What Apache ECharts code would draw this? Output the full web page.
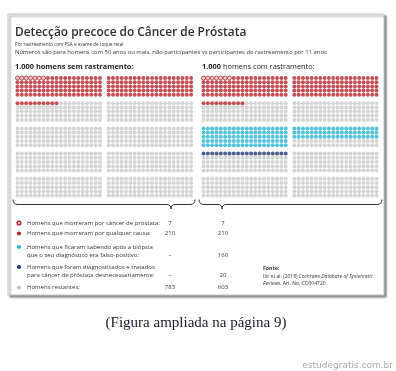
<!DOCTYPE html>
<html><head><meta charset="utf-8">
<script src="https://cdn.jsdelivr.net/npm/echarts@6/dist/echarts.min.js"></script>
<style>html,body{margin:0;padding:0;background:#fff}#c{width:396px;height:371px}</style>
</head><body><div id="c"></div>
<script>
// ---- data ----
const title = 'Detecção precoce do Câncer de Próstata';
const subtitle1 = 'Por rastreamento com PSA e exame de toque retal';
const subtitle2 = 'Números são para homens com 50 anos ou mais, não participantes vs participantes do rastreamento por 11 anos';
const panelTitles = ['1.000 homens sem rastramento:', '1.000 homens com rastramento:'];
const categories = [
  'Homens que morreram por câncer de próstata:',
  'Homens que morreram por qualquer causa:',
  'Homens que ficaram sabendo após a biópsia|que o seu diagnóstico era falso-positivo:',
  'Homens que foram diagnosticados e tratados|para câncer de próstata desnecessariamente:',
  'Homens restantes:'
];
const valuesSem = ['7', '210', '–', '–', '783'];
const valuesCom = ['7', '210', '160', '20', '603'];
// dots drawn in the picture (outlined red, red, cyan, dark blue); the rest are grey
const dotsSem = [7, 203, 0, 0];
const dotsCom = [7, 203, 160, 20];
const totalDots = 1000;

// ---- layout/styles ----
const colors = ['#f0cccc', '#b5242a', '#2bb3d4', '#1e3870', '#c9c9c9'];
const startBand = [0, 0, 2, 3];
const FONT = '"Open Sans", "Noto Sans", sans-serif';

function cellOf(band, idx) {
  const b = band + Math.floor(idx / 200);
  const j = idx % 200;
  const block = Math.floor(j / 100);
  const k = j % 100;
  const row = Math.floor(k / 20);
  const col = k % 20;
  return [col + block * 21, b * 6 + row];
}
function buildPanel(counts) {
  const used = new Set();
  const groups = [[], [], [], [], []];
  let redRun = 0;
  for (let g = 0; g < 2; g++) {
    for (let i = 0; i < counts[g]; i++) {
      const c = cellOf(0, redRun++);
      groups[g].push(c); used.add(c.join(','));
    }
  }
  for (let g = 2; g < 4; g++) {
    for (let i = 0; i < counts[g]; i++) {
      const c = cellOf(startBand[g], i);
      groups[g].push(c); used.add(c.join(','));
    }
  }
  for (let i = 0; i < totalDots; i++) {
    const c = cellOf(0, i);
    if (!used.has(c.join(','))) groups[4].push(c);
  }
  return groups;
}
const panels = [buildPanel(dotsSem), buildPanel(dotsCom)];

const series = [];
panels.forEach((groups, p) => {
  groups.forEach((data, g) => {
    series.push({
      type: 'scatter', xAxisIndex: p, yAxisIndex: p, data: data,
      symbol: 'circle', symbolSize: 4.0, silent: true, animation: false,
      itemStyle: g === 0 ? {color: colors[0], borderColor: colors[1], borderWidth: 1}
                         : {color: colors[g]}
    });
  });
});

const grids = [
  {left: 17.5, top: 78, width: 173.6, height: 117.6},
  {left: 203.5, top: 78, width: 173, height: 117.6}
];
const xAxes = grids.map((_, i) => ({gridIndex: i, type: 'value', min: 0, max: 40, show: false}));
const yAxes = grids.map((_, i) => ({gridIndex: i, type: 'value', min: 0, max: 28, inverse: true, show: false}));

const txt = '#333';
const graphic = [];
graphic.push({type: 'rect', z: -10, shape: {x: 8, y: 14, width: 376, height: 281},
  style: {fill: '#fff', stroke: '#c4c4c4', lineWidth: 1, shadowColor: 'rgba(0,0,0,0.45)', shadowOffsetX: 2, shadowOffsetY: 2, shadowBlur: 2}});
function T(x, y, text, size, opts) {
  opts = opts || {};
  graphic.push({type: 'text', x: x, y: y, z: 10, style: Object.assign({
    text: text, fontSize: size, fontFamily: FONT, fill: txt,
    textAlign: 'left', textVerticalAlign: 'middle'
  }, opts)});
}
T(15, 33, title, 11.9, {fontWeight: 600, fill: '#2e2e2e'});
T(15, 44.5, subtitle1, 4.6);
T(15, 52.5, subtitle2, 5.9);
T(15, 67, panelTitles[0], 7.4, {fontWeight: 'bold', fill: '#222'});
T(202, 67, '{b|1.000} homens com rastramento:', 7.4, {fill: '#222',
  rich: {b: {fontWeight: 'bold', fontSize: 7.4, fontFamily: FONT, fill: '#222'}}});

// brackets
function bracket(x0, x1, xt) {
  const y = 204.5, yEnd = 199.5, yTip = 209, st = {stroke: '#333', lineWidth: 1, fill: 'none'};
  graphic.push({type: 'bezierCurve', z: 5, shape: {x1: x0, y1: yEnd, cpx1: x0, cpy1: y, x2: x0 + 5, y2: y}, style: st});
  graphic.push({type: 'line', z: 5, shape: {x1: x0 + 5, y1: y, x2: xt - 4, y2: y}, style: st});
  graphic.push({type: 'bezierCurve', z: 5, shape: {x1: xt - 4, y1: y, cpx1: xt, cpy1: y, x2: xt, y2: yTip}, style: st});
  graphic.push({type: 'bezierCurve', z: 5, shape: {x1: xt, y1: yTip, cpx1: xt, cpy1: y, x2: xt + 4, y2: y}, style: st});
  graphic.push({type: 'line', z: 5, shape: {x1: xt + 4, y1: y, x2: x1 - 5, y2: y}, style: st});
  graphic.push({type: 'bezierCurve', z: 5, shape: {x1: x1 - 5, y1: y, cpx1: x1, cpy1: y, x2: x1, y2: yEnd}, style: st});
}
bracket(13, 195, 171);
bracket(199, 382, 222);

// legend
const legY = [[223], [233.5], [247, 255.5], [267, 275.5], [287.5]];
categories.forEach((c, i) => {
  const lines = c.split('|');
  const sym = {type: 'circle', z: 10, shape: {cx: 19, cy: legY[i][0], r: 2.1}, style: {fill: colors[i]}};
  if (i === 0) { sym.style = {fill: '#fff', stroke: colors[1], lineWidth: 1.5}; sym.shape.r = 1.8; }
  graphic.push(sym);
  lines.forEach((l, k) => T(27, legY[i][k], l, 6.0));
  const vy = legY[i][legY[i].length - 1];
  T(170, vy, valuesSem[i], 6.0, {textAlign: 'center'});
  T(223, vy, valuesCom[i], 6.0, {textAlign: 'center'});
});
T(263, 269, 'Fonte:', 5.2, {fontWeight: 'bold'});
T(263, 276.5, 'Ilic et al. (2018) {i|Cochrane Database of Systematic}', 5.0,
  {rich: {i: {fontStyle: 'italic', fontSize: 5.0, fontFamily: FONT, fill: txt}}});
T(263, 284, '{i|Reviews}, Art. No.:CD004720', 5.0,
  {rich: {i: {fontStyle: 'italic', fontSize: 5.0, fontFamily: FONT, fill: txt}}});

T(196, 323, '(Figura ampliada na página 9)', 15, {textAlign: 'center', fontFamily: '"Liberation Serif", "DejaVu Serif", serif', fill: '#1a1a2e'});
T(393, 366, 'estudegratis.com.br', 9, {textAlign: 'right', fontFamily: '"DejaVu Sans", sans-serif', fill: '#a8a8a8'});

const chart = echarts.init(document.getElementById('c'), null, {renderer: 'canvas'});
chart.setOption({
  animation: false,
  backgroundColor: '#fff',
  grid: grids, xAxis: xAxes, yAxis: yAxes,
  series: series,
  graphic: graphic
});
</script></body></html>
